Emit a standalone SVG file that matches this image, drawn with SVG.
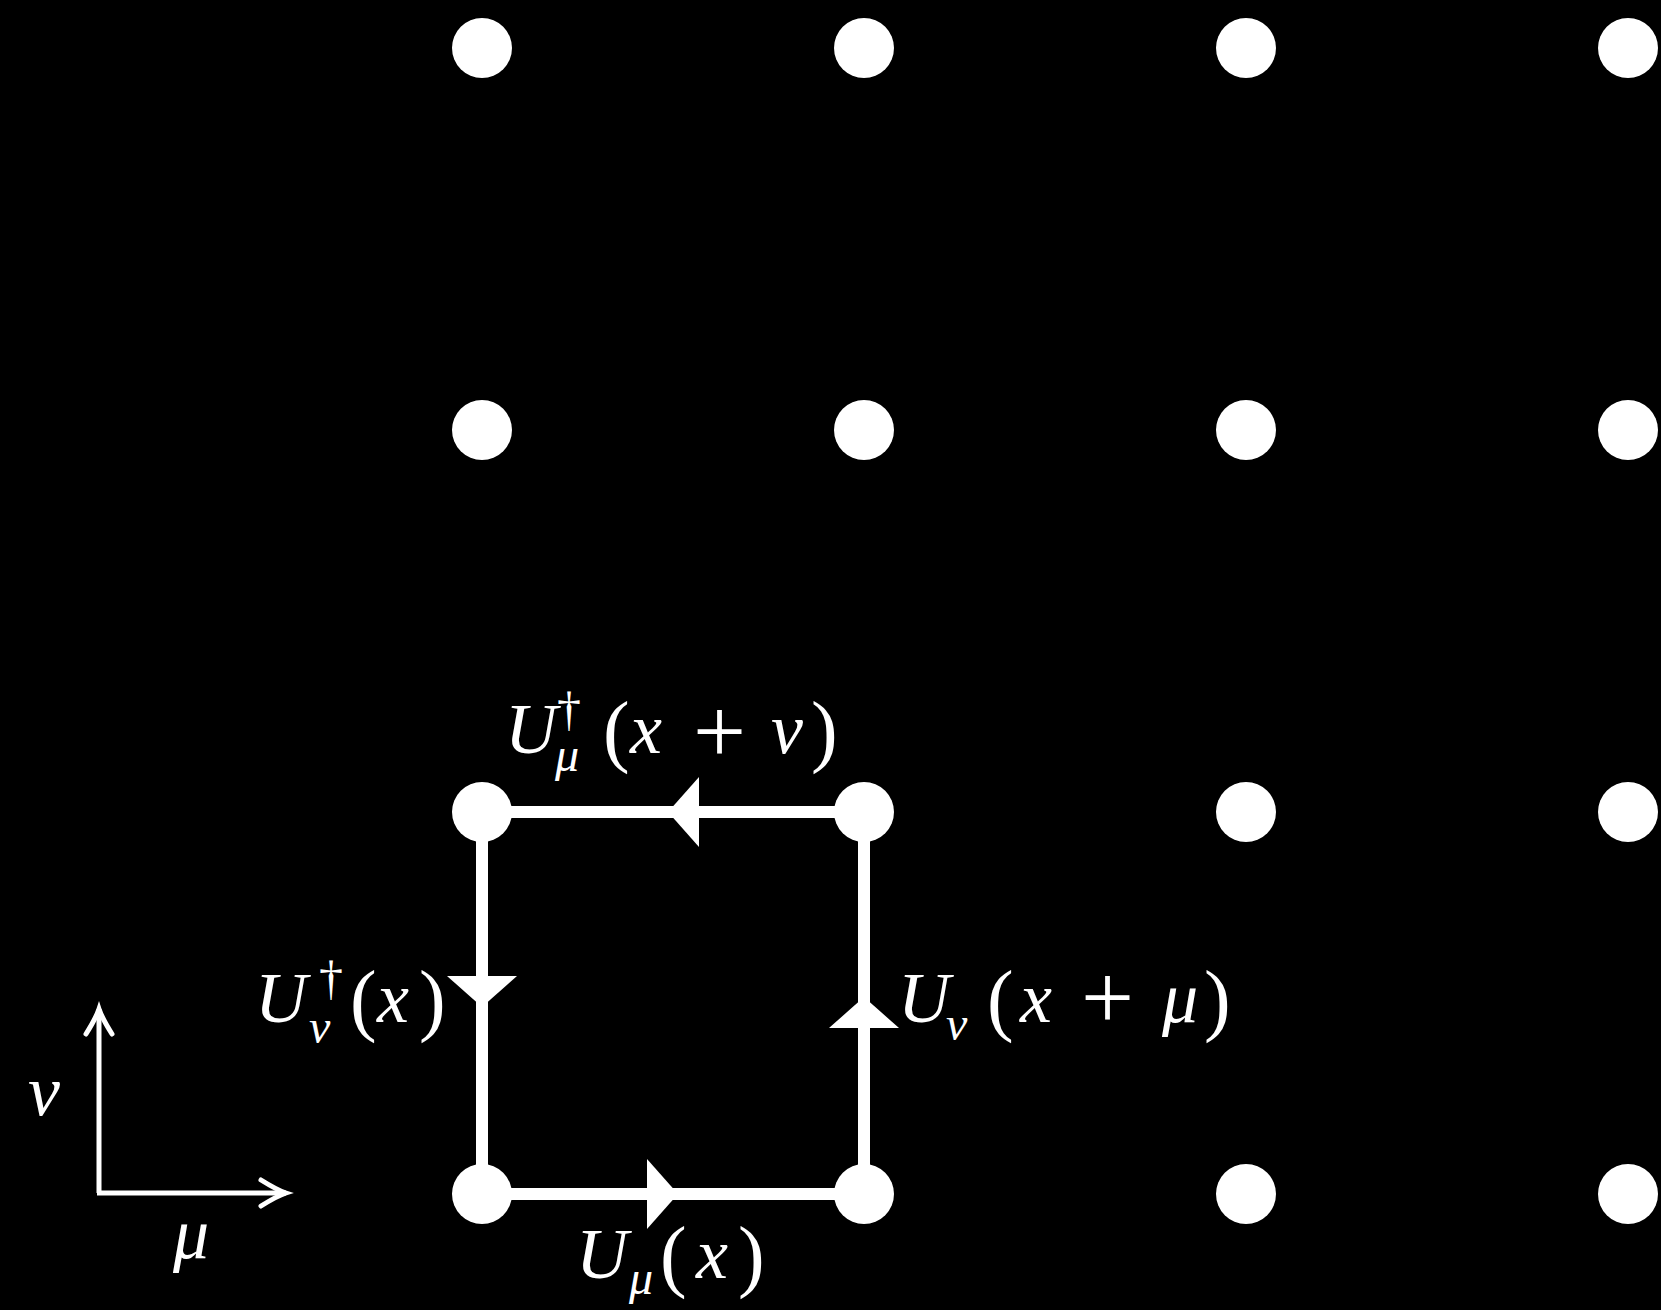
<svg xmlns="http://www.w3.org/2000/svg" width="1661" height="1310" viewBox="0 0 1661 1310">
<style>
.bg{fill:#000}
.dot{fill:#fff}
.link{stroke:#fff;stroke-width:12;fill:none}
.axis{stroke:#fff;stroke-width:5;fill:none}
text{fill:#fff;font-family:"Liberation Serif","DejaVu Serif",serif;font-size:72px}
.it{font-style:italic}
.sub{font-size:48px;font-style:italic}
.sup{font-size:48px}
.par{font-size:80px}
.op{font-size:94px}
</style>
<defs>
<marker id="tri" markerUnits="userSpaceOnUse" viewBox="0 0 31 70" refX="31" refY="35" markerWidth="31" markerHeight="70" orient="auto">
<path d="M0,0 L31,35 L0,70 Z" fill="#fff"/>
</marker>
<marker id="chev" markerUnits="userSpaceOnUse" viewBox="-30 -20 34 40" refX="0" refY="0" markerWidth="34" markerHeight="40" orient="auto" overflow="visible">
<path d="M-25,-13 Q-9,-3 0,0 Q-9,3 -25,13" stroke="#fff" stroke-width="5" fill="none" stroke-linecap="round"/>
</marker>
</defs>
<rect class="bg" x="0" y="0" width="1661" height="1310"/>
<g id="connectors">
<path class="link" d="M482,1194 L678,1194 L864,1194" marker-mid="url(#tri)"/>
<path class="link" d="M864,1194 L864,997 L864,812" marker-mid="url(#tri)"/>
<path class="link" d="M864,812 L668,812 L482,812" marker-mid="url(#tri)"/>
<path class="link" d="M482,812 L482,1007 L482,1194" marker-mid="url(#tri)"/>
</g>
<g id="axes">
<path class="axis" d="M99,1193 L99,1009" marker-end="url(#chev)"/>
<path class="axis" d="M97,1193 L286,1193" marker-end="url(#chev)"/>
<text class="it" x="28" y="1115">ν</text>
<text class="it" x="173" y="1258">μ</text>
</g>
<g id="n-0-0"><circle class="dot" cx="482" cy="48" r="30"/></g>
<g id="n-1-0"><circle class="dot" cx="864" cy="48" r="30"/></g>
<g id="n-2-0"><circle class="dot" cx="1246" cy="48" r="30"/></g>
<g id="n-3-0"><circle class="dot" cx="1628" cy="48" r="30"/></g>
<g id="n-0-1"><circle class="dot" cx="482" cy="430" r="30"/></g>
<g id="n-1-1"><circle class="dot" cx="864" cy="430" r="30"/></g>
<g id="n-2-1"><circle class="dot" cx="1246" cy="430" r="30"/></g>
<g id="n-3-1"><circle class="dot" cx="1628" cy="430" r="30"/></g>
<g id="n-0-2"><circle class="dot" cx="482" cy="812" r="30"/></g>
<g id="n-1-2"><circle class="dot" cx="864" cy="812" r="30"/></g>
<g id="n-2-2"><circle class="dot" cx="1246" cy="812" r="30"/></g>
<g id="n-3-2"><circle class="dot" cx="1628" cy="812" r="30"/></g>
<g id="n-0-3"><circle class="dot" cx="482" cy="1194" r="30"/></g>
<g id="n-1-3"><circle class="dot" cx="864" cy="1194" r="30"/></g>
<g id="n-2-3"><circle class="dot" cx="1246" cy="1194" r="30"/></g>
<g id="n-3-3"><circle class="dot" cx="1628" cy="1194" r="30"/></g>
<g id="label-bottom">
<text><tspan class="it" x="576" y="1278">U</tspan><tspan class="sub" x="629" y="1294">μ</tspan><tspan class="par" x="660" y="1282">(</tspan><tspan class="it" x="696" y="1278">x</tspan><tspan class="par" x="738" y="1282">)</tspan></text>
</g>
<g id="label-top">
<text><tspan class="it" x="505" y="753">U</tspan><tspan class="sup" x="557" y="725">†</tspan><tspan class="sub" x="555" y="771">μ</tspan><tspan class="par" x="603" y="757">(</tspan><tspan class="it" x="630" y="753">x</tspan><tspan class="op" x="693" y="763">+</tspan><tspan class="it" x="771" y="753">ν</tspan><tspan class="par" x="811" y="757">)</tspan></text>
</g>
<g id="label-left">
<text><tspan class="it" x="255" y="1022">U</tspan><tspan class="sup" x="319" y="994">†</tspan><tspan class="sub" x="309" y="1043">ν</tspan><tspan class="par" x="350" y="1026">(</tspan><tspan class="it" x="377" y="1022">x</tspan><tspan class="par" x="419" y="1026">)</tspan></text>
</g>
<g id="label-right">
<text><tspan class="it" x="898" y="1022">U</tspan><tspan class="sub" x="946" y="1040">ν</tspan><tspan class="par" x="987" y="1026">(</tspan><tspan class="it" x="1020" y="1022">x</tspan><tspan class="op" x="1081" y="1029">+</tspan><tspan class="it" x="1162" y="1022">μ</tspan><tspan class="par" x="1204" y="1026">)</tspan></text>
</g>
</svg>
